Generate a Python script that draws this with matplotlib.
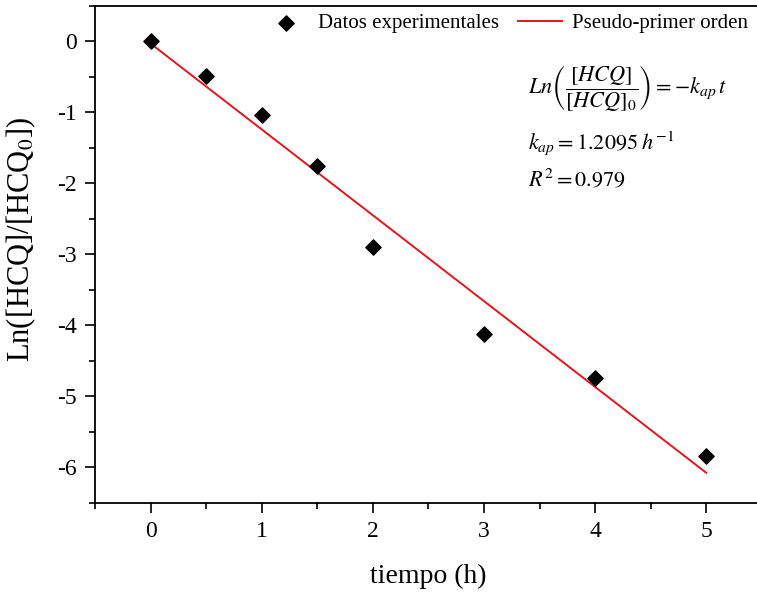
import numpy as np
import matplotlib
matplotlib.use('Agg')
import matplotlib.pyplot as plt
from matplotlib.ticker import MultipleLocator

# data
tiempo = [0, 0.5, 1, 1.5, 2, 3, 4, 5]
ln_ratio = [0.0, -0.48, -1.04, -1.75, -2.90, -4.12, -4.74, -5.84]
kap = 1.2095
intercepto = -0.03
r2 = 0.979

plt.rcParams['font.family'] = ['Liberation Serif', 'DejaVu Serif']
plt.rcParams['mathtext.fontset'] = 'stix'
plt.rcParams['axes.unicode_minus'] = False

fig = plt.figure(figsize=(7.57, 5.93), dpi=100)
ax = fig.add_axes([0.1255, 0.152, 0.881, 0.838])

ax.scatter(tiempo, ln_ratio, marker='D', s=60, color='black', zorder=3,
           label='Datos experimentales')
x_fit = np.array([tiempo[0], tiempo[-1]])
ax.plot(x_fit, intercepto - kap * x_fit, color='#e8141c', lw=1.4,
        label='Pseudo-primer orden')

ax.set_xlim(-0.5, 5.5)
ax.set_ylim(-6.5, 0.5)
ax.xaxis.set_major_locator(MultipleLocator(1))
ax.xaxis.set_minor_locator(MultipleLocator(0.5))
ax.yaxis.set_major_locator(MultipleLocator(1))
ax.yaxis.set_minor_locator(MultipleLocator(0.5))
ax.tick_params(which='both', direction='out', top=False, right=False, width=1.2)
ax.tick_params(which='major', length=7, labelsize=17, pad=6)
ax.tick_params(which='minor', length=4)
for s in ax.spines.values():
    s.set_linewidth(1.3)

ax.set_xlabel('tiempo (h)', fontsize=20, labelpad=16)
ax.set_ylabel(r'Ln([HCQ]/[HCQ$_0$])', fontsize=22)
ax.yaxis.set_label_coords(-0.085, 0.53)

ax.legend(loc='upper right', bbox_to_anchor=(0.998, 1.01), ncol=2, frameon=False,
          fontsize=15, handlelength=2.1, columnspacing=0.9, handletextpad=0.5,
          borderaxespad=0.2)

eq_kw = dict(transform=fig.transFigure, fontsize=16, ha='left', va='center')
fig.text(0.698, 0.851, r'$Ln\left(\dfrac{[HCQ]}{[HCQ]_0}\right)=-k_{ap}\,t$', **eq_kw)
fig.text(0.698, 0.759, r'$k_{ap}=%.4f\;h^{-1}$' % kap, **eq_kw)
fig.text(0.698, 0.697, r'$R^2=%.3f$' % r2, **eq_kw)

fig.savefig('out.png', dpi=100)
